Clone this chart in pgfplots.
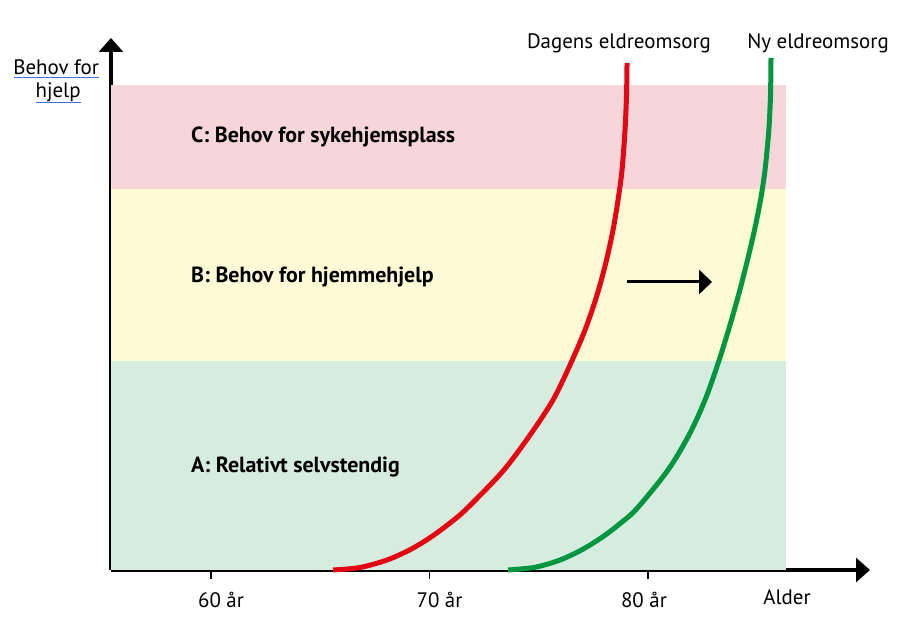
\documentclass[border=0pt]{standalone}
\usepackage{pgfplots}
\pgfplotsset{compat=1.18}
\usepackage{fontspec}
\setmainfont{PT Sans}
\usetikzlibrary{arrows.meta}
\definecolor{bandC}{RGB}{247,214,217}
\definecolor{bandB}{RGB}{254,250,213}
\definecolor{bandA}{RGB}{213,236,223}
\definecolor{curveRed}{RGB}{227,6,19}
\definecolor{curveGreen}{RGB}{0,150,64}
\definecolor{spellBlue}{RGB}{60,110,230}
\newcommand{\lbl}{\fontsize{21}{24}\selectfont}
\newcommand{\blbl}{\fontsize{22}{25}\selectfont\bfseries}
\begin{document}
\begin{tikzpicture}
\path (0,0) rectangle (897bp,624bp);
\begin{axis}[
  at={(111bp,54bp)}, anchor=south west,
  scale only axis, width=759bp, height=532bp,
  xmin=55.42, xmax=90.16, ymin=0, ymax=532,
  axis lines=left,
  axis line style={line width=3bp, -{Triangle[width=24bp,length=14bp]}},
  xtick={60,70,80},
  xticklabels={\kern20bp 60 år,\kern20bp 70 år,80 år\kern8bp},
  ytick=\empty,
  tick align=outside, major tick length=9bp,
  x tick style={line width=1.6bp, black},
  xticklabel style={font=\lbl, anchor=north, yshift=-10bp},
  clip=false,
]
% bands
\addplot[fill=bandA, draw=none] coordinates {(55.42,0) (86.32,0) (86.32,208.5) (55.42,208.5)} -- cycle;
\addplot[fill=bandB, draw=none] coordinates {(55.42,208.5) (86.32,208.5) (86.32,381) (55.42,381)} -- cycle;
\addplot[fill=bandC, draw=none] coordinates {(55.42,381) (86.32,381) (86.32,484.5) (55.42,484.5)} -- cycle;
% curves
\addplot[smooth, line width=5bp, color=curveRed] coordinates {
 (65.584,0) (66.819,2.5) (68.055,10) (69.108,20.3) (70.023,32.3) (70.938,47)
 (71.716,61.6) (73.364,99) (74.600,135)
 (75.652,170) (76.430,205) (77.117,240) (77.666,275) (78.078,308) (78.398,340)
 (78.627,370) (78.810,400) (78.947,440) (79.016,475) (79.039,507)};
\addplot[smooth, line width=5bp, color=curveGreen] coordinates {
 (73.593,0) (74.828,2.7) (75.973,10) (76.979,20.3) (77.941,33.4) (78.719,46.4)
 (79.497,61.6) (80.915,100) (81.876,135)
 (82.609,170) (83.181,205) (83.684,240) (84.142,275) (84.531,308) (84.874,340)
 (85.149,370) (85.355,400) (85.529,440) (85.606,475) (85.629,512)};
% arrow
\addplot[line width=3bp, -{Triangle[width=24bp,length=13bp]}] coordinates {(79.04,288) (82.93,288)};
% labels
\node[anchor=west, inner sep=0pt, font=\blbl] at (axis cs:59.08,433) {C: Behov for sykehjemsplass};
\node[anchor=west, inner sep=0pt, font=\blbl] at (axis cs:59.08,293) {B: Behov for hjemmehjelp};
\node[anchor=west, inner sep=0pt, font=\blbl] at (axis cs:59.08,103) {A: Relativt selvstendig};
\node[font=\lbl] at (axis cs:78.67,527) {Dagens eldreomsorg};
\node[font=\lbl] at (axis cs:87.78,527) {Ny eldreomsorg};
\node[font=\lbl] at (axis cs:86.36,-27) {Alder};
\node[font=\lbl, anchor=base, inner sep=0pt] at (axis cs:52.91,495) {Behov for};
\node[font=\lbl, anchor=base, inner sep=0pt] at (axis cs:53.0,472.5) {hjelp};
\draw[spellBlue, line width=1bp] (axis cs:50.99,492.5) -- (axis cs:54.88,492.5);
\draw[spellBlue, line width=1bp] (axis cs:51.99,467.5) -- (axis cs:54.05,467.5);
\end{axis}
\end{tikzpicture}
\end{document}
